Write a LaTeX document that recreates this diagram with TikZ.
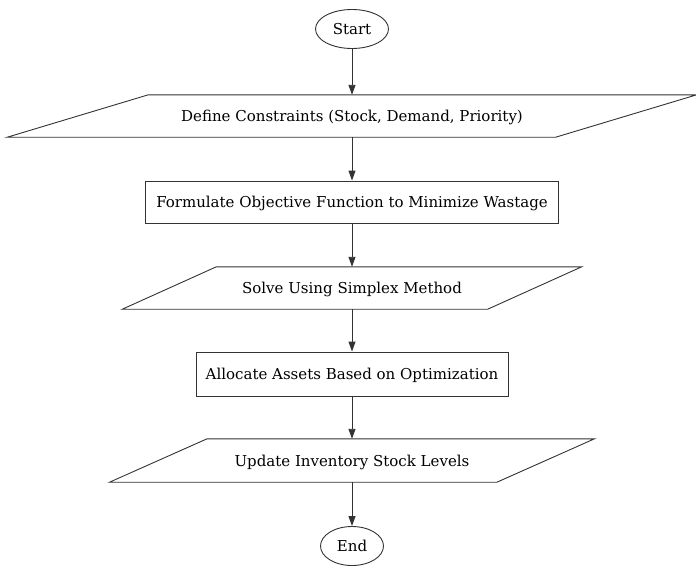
\documentclass[tikz,border=0pt]{standalone}
\usepackage{fontspec}
\setmainfont{DejaVu Serif}
\usetikzlibrary{arrows.meta,calc,shapes.geometric}

% slanted input/output box drawn around a named node: #1 = node, #2 = slant
\newcommand\slantframe[2]{%
  \draw[frame] ($(#1.north west)+(#2/2,0)$) -- ($(#1.north east)+(#2/2,0)$)
    -- ($(#1.south east)-(#2/2,0)$) -- ($(#1.south west)-(#2/2,0)$) -- cycle;}

\begin{document}
\begin{tikzpicture}[x=1pt,y=-1pt,
  frame/.style={draw=black!80,line width=0.9pt},
  txt/.style={font=\fontsize{15}{18}\selectfont,inner sep=0pt,text depth=0pt,yshift=0pt},
  term/.style={txt,ellipse,frame,minimum width=#1,minimum height=39},
  procbox/.style={txt,rectangle,frame,minimum width=#1,minimum height=42},
  iobox/.style={txt,rectangle,minimum width=#1,minimum height=42},
  flow/.style={draw=black!80,line width=0.9pt,-{Triangle[length=10pt,width=7pt]}}]
\useasboundingbox (0,0) rectangle (696,565);

\node[term=73] (start) at (352,29) {Start};
\node[iobox=548] (constr) at (352,116) {Define Constraints (Stock, Demand, Priority)};
\slantframe{constr}{141}
\node[procbox=413] (objfn) at (352,202) {Formulate Objective Function to Minimize Wastage};
\node[iobox=365] (simplex) at (352,288) {Solve Using Simplex Method};
\slantframe{simplex}{94}
\node[procbox=312,minimum height=44] (alloc) at (352,374) {Allocate Assets Based on Optimization};
\node[iobox=387,minimum height=43] (update) at (352,460.5) {Update Inventory Stock Levels};
\slantframe{update}{97.5}
\node[term=63] (stop) at (352,546) {End};

\draw[flow] (start) -- (constr.north);
\draw[flow] (constr.south) -- (objfn.north);
\draw[flow] (objfn.south) -- (simplex.north);
\draw[flow] (simplex.south) -- (alloc.north);
\draw[flow] (alloc.south) -- (update.north);
\draw[flow] (update.south) -- (stop);
\end{tikzpicture}
\end{document}
